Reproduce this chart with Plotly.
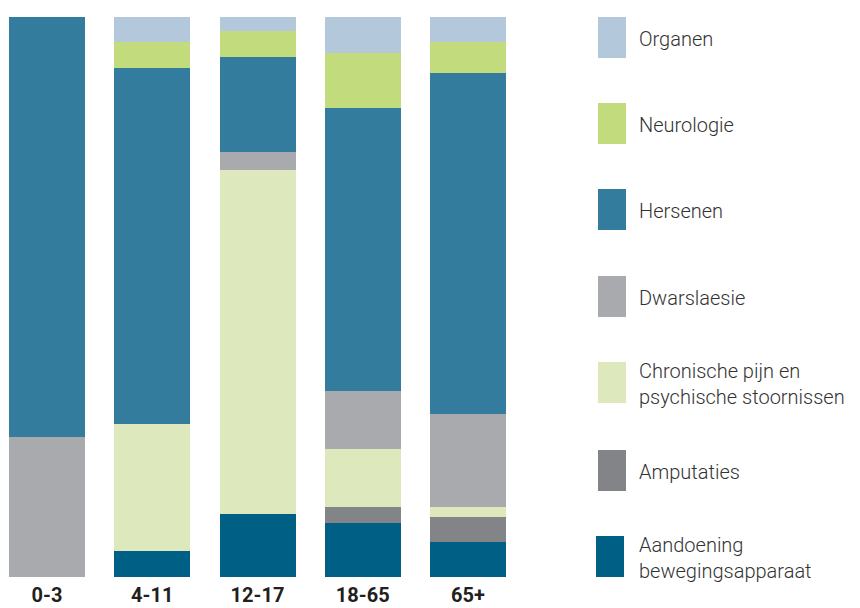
import plotly.graph_objects as go

categories = ["0-3", "4-11", "12-17", "18-65", "65+"]

series_names = [
    "Aandoening<br>bewegingsapparaat",
    "Amputaties",
    "Chronische pijn en<br>psychische stoornissen",
    "Dwarslaesie",
    "Hersenen",
    "Neurologie",
    "Organen",
]
aandoening = [0, 4.6, 11.25, 9.6, 6.25]
amputaties = [0, 0, 0, 2.9, 4.5]
chronische = [0, 22.7, 61.4, 10.4, 1.8]
dwarslaesie = [25, 0, 3.2, 10.4, 16.6]
hersenen = [75, 63.6, 17.0, 50.5, 60.9]
neurologie = [0, 4.6, 4.6, 9.8, 5.4]
organen = [0, 4.5, 2.5, 6.4, 4.6]

colors = ["#005f85", "#838488", "#dde9bc", "#a9aaad", "#347c9d", "#c1db7d", "#b3c9db"]
values = [aandoening, amputaties, chronische, dwarslaesie, hersenen, neurologie, organen]

fig = go.Figure()
for name, vals, col in zip(series_names, values, colors):
    fig.add_trace(go.Bar(x=categories, y=vals, name=name, marker_color=col,
                         marker_line_width=0, showlegend=False))

# the page body adds an 8px offset; work in figure coordinates (page - 8)
OFF = 8
W, H = 860 - OFF, 608 - OFF
plot_left, plot_right = 0, 530
plot_top, plot_bottom = 17 - OFF, 577 - OFF

FONT = "Roboto, sans-serif"

# legend (top to bottom: reversed stacking order)
legend_order = list(range(len(series_names)))[::-1]
swatch_tops = [17, 103, 189, 276, 362, 450, 536]
swatch_x = [598, 598, 598, 598, 598, 598, 596]
shapes = []
annotations = []
pw = plot_right - plot_left
ph = plot_bottom - plot_top
for idx, top, sx in zip(legend_order, swatch_tops, swatch_x):
    x0 = sx - OFF
    t = top - OFF
    shapes.append(dict(type="rect", xref="paper", yref="paper",
                       x0=(x0 - plot_left) / pw, x1=(x0 + 28 - plot_left) / pw,
                       y0=(plot_bottom - (t + 41)) / ph, y1=(plot_bottom - t) / ph,
                       fillcolor=colors[idx], line_width=0))
    annotations.append(dict(xref="paper", yref="paper",
                            x=(637 - OFF - plot_left) / pw,
                            y=(plot_bottom - (t + 22)) / ph,
                            xanchor="left", yanchor="middle", align="left",
                            text=series_names[idx], showarrow=False,
                            font=dict(size=20, color="#333333", family=FONT, weight=300)))

step = 105.25
x_start = -(47 - OFF) / step
x_end = x_start + pw / step

fig.update_layout(
    barmode="stack",
    bargap=1 - 76 / step,
    width=W, height=H,
    margin=dict(l=plot_left, r=W - plot_right, t=plot_top, b=H - plot_bottom, pad=0,
                autoexpand=False),
    plot_bgcolor="white", paper_bgcolor="white",
    shapes=shapes, annotations=annotations,
    xaxis=dict(range=[x_start, x_end], showgrid=False, zeroline=False, showline=False,
               ticks="", ticklabelstandoff=4, automargin=False,
               tickfont=dict(size=20, color="#231f20", family=FONT, weight="bold")),
    yaxis=dict(range=[0, 100], showgrid=False, zeroline=False, showline=False,
               showticklabels=False, ticks="", automargin=False),
)

fig.write_html("out.html")
